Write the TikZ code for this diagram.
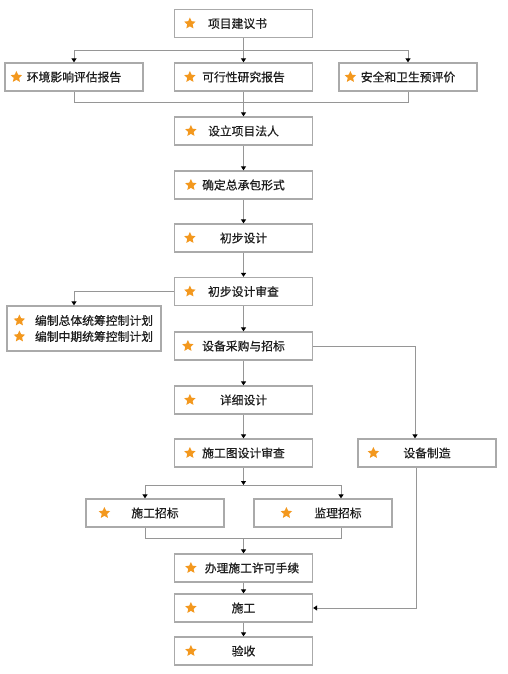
\documentclass[tikz,border=0pt]{standalone}
\usepackage{fontspec}
\newfontfamily\cjk[FakeBold=0.6]{Noto Sans CJK SC}
\usepackage{tikz}
\usetikzlibrary{arrows.meta, shapes.geometric}
\definecolor{boxgray}{RGB}{170,170,170}
\definecolor{linegray}{RGB}{150,150,150}
\definecolor{starorange}{RGB}{243,152,30}
\definecolor{textdark}{RGB}{30,30,30}
\tikzset{
    stepbox/.style={draw=boxgray, line width=1.2pt, minimum width=138pt, minimum height=28pt, inner sep=2pt, text=textdark, font=\cjk\fontsize{11.8}{16}\selectfont},
    starmark/.style={star, star points=5, star point ratio=2.1, fill=starorange, inner sep=0pt, minimum size=12pt},
    link/.style={draw=linegray, line width=1pt},
    flow/.style={link, -{Triangle[length=4pt, width=5pt, color=black]}}
}

\begin{document}
\begin{tikzpicture}[x=1pt, y=-1pt]
        \path[fill=white, use as bounding box] (0,0) rectangle (507,674);

        % steps of the main column
        \node[stepbox] (xmjys) at (243.5,23.5) {\hspace*{-12pt}项目建议书};
        \node[stepbox] (hjpg) at (74,77) {环境影响评估报告};
        \node[stepbox] (kxx) at (243.5,77) {可行性研究报告};
        \node[stepbox] (aqpj) at (408,77) {安全和卫生预评价};
        \node[stepbox] (frs) at (243.5,131) {设立项目法人};
        \node[stepbox] (zcb) at (243.5,185) {确定总承包形式};
        \node[stepbox] (cbsj) at (243.5,238) {初步设计};
        \node[stepbox] (sjsc) at (243.5,291.5) {初步设计审查};
        \node[stepbox, minimum width=154pt, minimum height=45pt, text width=154pt, inner xsep=0pt, align=left] (bzjh) at (84,328.5)
            {\hspace*{28pt}编制总体统筹控制计划\\ \hspace*{28pt}编制中期统筹控制计划};
        \node[stepbox] (sbcg) at (243.5,346) {设备采购与招标};
        \node[stepbox] (xxsj) at (243.5,400) {详细设计};
        \node[stepbox] (sgtsc) at (243.5,453) {施工图设计审查};
        \node[stepbox] (sbzz) at (427,453) {设备制造};
        \node[stepbox] (sgzb) at (155,513) {施工招标};
        \node[stepbox] (jlzb) at (323,513) {\hspace*{30pt}监理招标};
        \node[stepbox] (xkss) at (243.5,568) {\hspace*{17pt}办理施工许可手续};
        \node[stepbox] (sg) at (243.5,608) {施工};
        \node[stepbox] (ys) at (243.5,651) {验收};

        % stars
        \foreach \n/\dx in {xmjys/16,hjpg/12,kxx/16,aqpj/12,frs/17,zcb/17,cbsj/16,sjsc/16,sbcg/14,xxsj/16,sgtsc/16,sbzz/16,sgzb/19,jlzb/33,xkss/17,sg/17,ys/17}
            \node[starmark] (star-\n) at ([xshift=\dx pt]\n.west) {};
        \node[starmark] (star-bz1) at ([xshift=13pt, yshift=8pt]bzjh.west) {};
        \node[starmark] (star-bz2) at ([xshift=13pt, yshift=-8pt]bzjh.west) {};

        % three reports
        \coordinate (fork1) at (243.5,51);
        \coordinate (join1) at (243.5,103);
        \draw[link] (xmjys) -- (fork1);
        \draw[flow] (fork1) -| (hjpg);
        \draw[flow] (fork1) -- (kxx);
        \draw[flow] (fork1) -| (aqpj);
        \draw[link] (hjpg) |- (join1);
        \draw[link] (aqpj) |- (join1);
        \draw[flow] (kxx) -- (frs);

        % main chain
        \foreach \a/\b in {frs/zcb,zcb/cbsj,cbsj/sjsc,sjsc/sbcg,sbcg/xxsj,xxsj/sgtsc,xkss/sg,sg/ys}
            \draw[flow] (\a) -- (\b);
        \draw[flow] (sjsc.west) -| ([xshift=-10pt]bzjh.north);

        % equipment branch
        \draw[flow] (sbcg.east) -| ([xshift=-12pt]sbzz.north);
        \draw[flow] ([xshift=-11pt]sbzz.south) |- (sg.east);

        % tendering
        \coordinate (fork2) at (243.5,485);
        \coordinate (join2) at (243.5,538);
        \draw[flow] (sgtsc) -- (fork2);
        \draw[flow] (fork2) -| ([xshift=-10pt]sgzb.north);
        \draw[flow] (fork2) -| ([xshift=18pt]jlzb.north);
        \draw[link] ([xshift=-10pt]sgzb.south) |- (join2);
        \draw[link] ([xshift=18pt]jlzb.south) |- (join2);
        \draw[flow] (join2) -- (xkss);
    \end{tikzpicture}
\end{document}
